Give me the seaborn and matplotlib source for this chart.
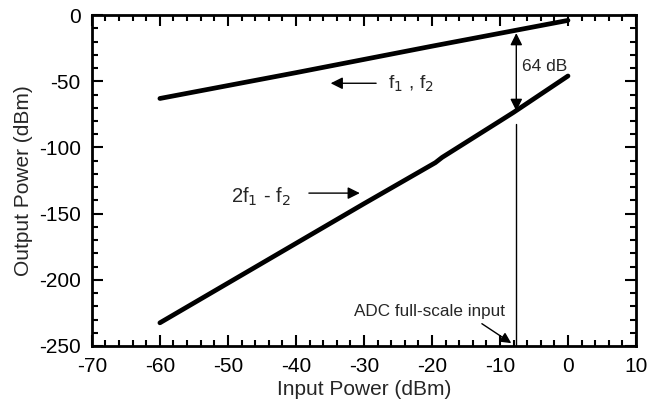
import matplotlib
matplotlib.use("Agg")
import matplotlib.pyplot as plt
import seaborn as sns
import numpy as np
import pandas as pd
from matplotlib.ticker import MultipleLocator

# data
fund_in = [-60, -40, -20, 0]
fund_out = [-63, -43.5, -23.5, -4]
imd_in = [-60, -40, -30, -19.5, -18.5, -10, -8, 0]
imd_out = [-232.5, -172.5, -142.5, -111.5, -107.5, -80, -73.5, -46]

adc_x = -7.6
gap_top, gap_bot = -11.5, -74.5

sns.set_theme(style="ticks")
plt.rcParams['font.family'] = ['Liberation Sans', 'DejaVu Sans']
plt.rcParams['axes.unicode_minus'] = False

df_fund = pd.DataFrame({'x': fund_in, 'y': fund_out})
df_imd = pd.DataFrame({'x': imd_in, 'y': imd_out})

fig, ax = plt.subplots(figsize=(6.47, 4.08), dpi=100)
sns.lineplot(data=df_fund, x='x', y='y', ax=ax, color='black', lw=3.4)
sns.lineplot(data=df_imd, x='x', y='y', ax=ax, color='black', lw=3.4)

# ADC full scale line and 64 dB gap
ax.plot([adc_x, adc_x], [-82, -250], color='black', lw=1)
ax.annotate('', xy=(adc_x, gap_top), xytext=(adc_x, gap_bot),
            arrowprops=dict(arrowstyle='<|-|>', color='black', lw=1, mutation_scale=18))
ax.text(-6.8, -39, '64 dB', fontsize=12.5, va='center', ha='left')

ax.annotate('', xy=(-35.3, -51.5), xytext=(-27.8, -51.5),
            arrowprops=dict(arrowstyle='-|>', color='black', lw=1, mutation_scale=18))
ax.text(-26.5, -52, r'f$_{1}$ , f$_{2}$', fontsize=14, va='center', ha='left')

ax.annotate('', xy=(-30.2, -134.5), xytext=(-38.5, -134.5),
            arrowprops=dict(arrowstyle='-|>', color='black', lw=1, mutation_scale=18))
ax.text(-49.6, -137, r'2f$_{1}$ - f$_{2}$', fontsize=14.5, va='center', ha='left')

ax.annotate('', xy=(adc_x - 0.4, -249), xytext=(-13, -232),
            arrowprops=dict(arrowstyle='-|>', color='black', lw=1, mutation_scale=16))
ax.text(-20.3, -224, 'ADC full-scale input', fontsize=12.3, va='center', ha='center')

ax.set_xlim(-70, 10)
ax.set_ylim(-250, 0)
ax.xaxis.set_major_locator(MultipleLocator(10))
ax.xaxis.set_minor_locator(MultipleLocator(2))
ax.yaxis.set_major_locator(MultipleLocator(50))
ax.yaxis.set_minor_locator(MultipleLocator(10))
ax.tick_params(which='both', direction='in', top=True, right=True, width=1.5,
               labelsize=15, colors='black', pad=8)
ax.tick_params(which='major', length=8)
ax.tick_params(which='minor', length=4.5)
for s in ax.spines.values():
    s.set_linewidth(2)
    s.set_color('black')

ax.set_xlabel('Input Power (dBm)', fontsize=15, labelpad=3)
ax.set_ylabel('Output Power (dBm)', fontsize=15, labelpad=4)

fig.subplots_adjust(left=0.142, right=0.983, top=0.963, bottom=0.152)
fig.savefig('out.png', dpi=100)
